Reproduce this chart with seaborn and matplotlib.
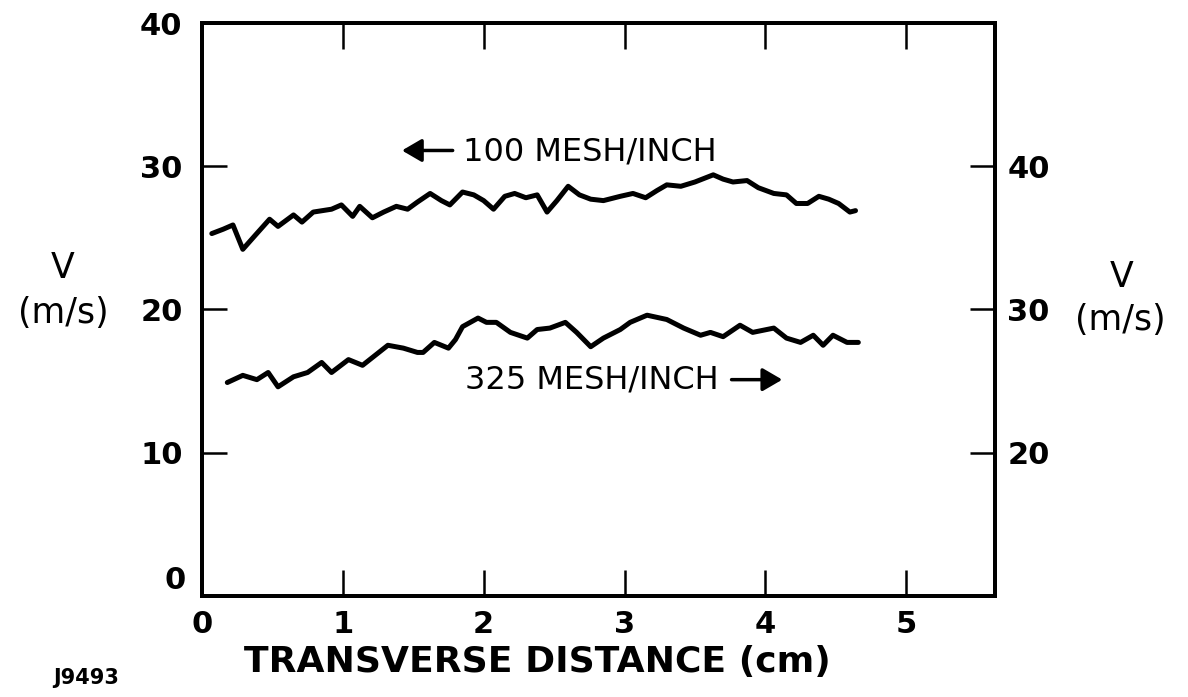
import numpy as np
import pandas as pd
import matplotlib
matplotlib.use('Agg')
import matplotlib.pyplot as plt
import seaborn as sns

# 100 mesh/inch curve, read against the left axis (m/s)
x_100 = [0.07, 0.15, 0.22, 0.29, 0.38, 0.48, 0.54, 0.65, 0.71, 0.79, 0.92, 0.99,
         1.07, 1.12, 1.21, 1.29, 1.38, 1.46, 1.53, 1.62, 1.70, 1.76, 1.85, 1.93,
         2.00, 2.07, 2.15, 2.22, 2.30, 2.38, 2.45, 2.52, 2.60, 2.68, 2.76, 2.85,
         2.97, 3.06, 3.15, 3.23, 3.30, 3.40, 3.50, 3.63, 3.70, 3.77, 3.87, 3.95,
         4.06, 4.15, 4.22, 4.30, 4.38, 4.45, 4.52, 4.60, 4.64]
v_100 = [25.3, 25.6, 25.9, 24.2, 25.2, 26.3, 25.8, 26.6, 26.1, 26.8, 27.0, 27.3,
         26.5, 27.2, 26.4, 26.8, 27.2, 27.0, 27.5, 28.1, 27.6, 27.3, 28.2, 28.0,
         27.6, 27.0, 27.9, 28.1, 27.8, 28.0, 26.8, 27.6, 28.6, 28.0, 27.7, 27.6,
         27.9, 28.1, 27.8, 28.3, 28.7, 28.6, 28.9, 29.4, 29.1, 28.9, 29.0, 28.5,
         28.1, 28.0, 27.4, 27.4, 27.9, 27.7, 27.4, 26.8, 26.9]

# 325 mesh/inch curve, read against the right axis (m/s)
x_325 = [0.18, 0.29, 0.39, 0.47, 0.54, 0.65, 0.75, 0.85, 0.92, 1.04, 1.14, 1.32,
         1.43, 1.53, 1.57, 1.65, 1.75, 1.80, 1.85, 1.96, 2.02, 2.09, 2.19, 2.31,
         2.38, 2.47, 2.58, 2.66, 2.76, 2.85, 2.97, 3.04, 3.16, 3.30, 3.42, 3.54,
         3.61, 3.70, 3.82, 3.91, 4.06, 4.15, 4.25, 4.34, 4.41, 4.48, 4.58, 4.66]
v_325 = [24.9, 25.4, 25.1, 25.6, 24.6, 25.3, 25.6, 26.3, 25.6, 26.5, 26.1, 27.5,
         27.3, 27.0, 27.0, 27.7, 27.3, 27.9, 28.8, 29.4, 29.1, 29.1, 28.4, 28.0,
         28.6, 28.7, 29.1, 28.4, 27.4, 28.0, 28.6, 29.1, 29.6, 29.3, 28.7, 28.2,
         28.4, 28.1, 28.9, 28.4, 28.7, 28.0, 27.7, 28.2, 27.5, 28.2, 27.7, 27.7]

x_ticks = [0, 1, 2, 3, 4, 5]
left_ticks = [0, 10, 20, 30, 40]
right_ticks = [20, 30, 40]

df_100 = pd.DataFrame({'x': x_100, 'v': v_100})
df_325 = pd.DataFrame({'x': x_325, 'v': v_325})

sns.set_style('white')
plt.rcParams['font.family'] = ['DejaVu Sans']
plt.rcParams['text.color'] = 'black'
plt.rcParams['xtick.color'] = 'black'
plt.rcParams['ytick.color'] = 'black'

fig = plt.figure(figsize=(11.88, 6.97), dpi=100)
ax = fig.add_axes([0.170, 0.145, 0.6675, 0.822])
ax2 = ax.twinx()

sns.lineplot(data=df_100, x='x', y='v', ax=ax, color='black', linewidth=3.6, sort=False,
             solid_joinstyle='round', solid_capstyle='round')
sns.lineplot(data=df_325, x='x', y='v', ax=ax2, color='black', linewidth=3.6, sort=False,
             solid_joinstyle='round', solid_capstyle='round')

ax.set_xlim(0, 5.63)
ax.set_ylim(0, 40)
ax2.set_ylim(10, 50)

for a in (ax, ax2):
    for s in a.spines.values():
        s.set_linewidth(2.8)
        s.set_color('black')
    a.set_xlabel('')
    a.set_ylabel('')

ax.set_xticks(x_ticks)
ax.set_xticklabels([str(t) for t in x_ticks], fontsize=22, fontweight='bold')
ax.set_yticks(left_ticks)
ax.set_yticklabels([''] + [str(t) for t in left_ticks[1:]], fontsize=22, fontweight='bold')
ax.tick_params(axis='x', direction='in', length=19, width=1.8, top=True, bottom=True, pad=10)
ax.tick_params(axis='y', direction='in', length=18, width=1.8, left=True, right=False, pad=14)
ax.text(-0.021, 0.012, '0', transform=ax.transAxes, ha='right', va='baseline',
        fontsize=22, fontweight='bold')

ax2.set_yticks(right_ticks)
ax2.set_yticklabels([str(t) for t in right_ticks], fontsize=22, fontweight='bold')
ax2.tick_params(axis='y', direction='in', length=18, width=1.8, right=True, left=False, pad=9)

# curve labels with arrows
ax.text(1.85, 31.0, '100 MESH/INCH', fontsize=23, ha='left', va='center')
ax.annotate('', xy=(1.42, 31.1), xytext=(1.78, 31.1),
            arrowprops=dict(arrowstyle='-|>,head_length=0.6,head_width=0.35', color='black',
                            lw=2.5, shrinkA=0, shrinkB=0, mutation_scale=20))
ax.text(1.87, 15.1, '325 MESH/INCH', fontsize=23, ha='left', va='center')
ax.annotate('', xy=(4.12, 15.1), xytext=(3.76, 15.1),
            arrowprops=dict(arrowstyle='-|>,head_length=0.6,head_width=0.35', color='black',
                            lw=2.5, shrinkA=0, shrinkB=0, mutation_scale=20))

# axis titles
fig.text(63 / 1188, 1 - 268 / 697, 'V', fontsize=25, ha='center', va='center')
fig.text(63 / 1188, 1 - 313 / 697, '(m/s)', fontsize=25, ha='center', va='center')
fig.text(1122 / 1188, 1 - 277 / 697, 'V', fontsize=25, ha='center', va='center')
fig.text(1120 / 1188, 1 - 320 / 697, '(m/s)', fontsize=25, ha='center', va='center')
fig.text(537 / 1188, 1 - 662 / 697, 'TRANSVERSE DISTANCE (cm)', fontsize=26,
         fontweight='bold', ha='center', va='center')
fig.text(86 / 1188, 1 - 678 / 697, 'J9493', fontsize=15, fontweight='bold',
         ha='center', va='center')

fig.savefig('out.png', dpi=100)
